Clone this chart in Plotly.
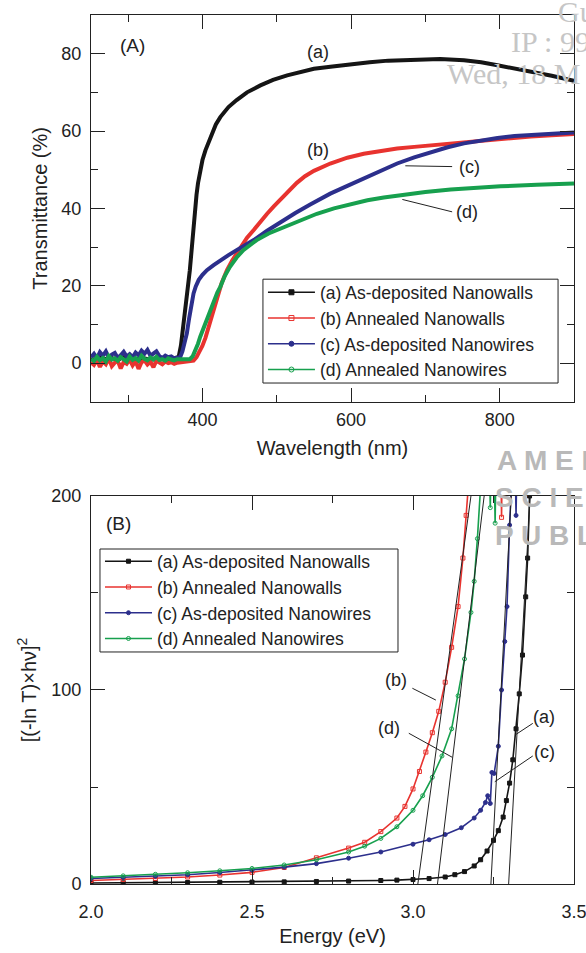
import plotly.graph_objects as go

# ---------------- data: panel (A) transmittance ----------------
wl_pre = [250, 254, 258, 262, 266, 270, 274, 278, 282, 286, 290, 294, 298, 302, 306,
          310, 314, 318, 322, 326, 330, 334, 338, 342, 346, 350, 354, 358, 362, 366]
T_a_pre = [1.2, 0.8, 1.0, 1.4, 0.9, 1.1, 0.7, 1.3, 1.0, 0.8, 1.2, 1.5, 0.9, 1.0, 1.3,
           0.8, 1.1, 0.9, 1.2, 1.0, 0.7, 1.1, 1.4, 0.9, 1.0, 1.2, 0.8, 1.0, 1.1, 1.3]
T_b_pre = [0.2, -0.5, 0.8, -1.0, 0.4, -0.3, 1.2, -0.8, 0.1, 0.6, -1.4, 0.3, -0.2, 0.9, -0.6,
           0.5, -1.5, 0.2, 0.7, -0.4, 0.3, -1.1, 0.6, 0.1, -0.3, 0.4, 0.0, 0.2, -0.2, 0.1]
T_c_pre = [1.5, 2.4, 1.2, 2.8, 1.9, 3.0, 1.4, 2.2, 2.6, 1.3, 2.0, 2.9, 1.7, 2.3, 1.5,
           2.7, 2.0, 3.2, 2.4, 3.4, 1.9, 2.6, 3.0, 1.8, 1.3, 1.9, 1.5, 1.7, 1.2, 1.4]
T_d_pre = [1.0, 0.5, 1.6, 0.7, 1.3, 0.4, 1.8, 0.9, 1.2, 0.6, 1.5, 1.0, 0.4, 1.7, 0.8,
           1.3, 0.6, 1.9, 1.1, 0.7, 1.4, 0.9, 1.6, 0.8, 1.0, 0.6, 1.2, 0.9, 0.7, 1.0]

wl_a = [368, 371, 374, 377, 380, 383, 386, 388, 390, 392, 394, 397, 400, 404, 408, 412, 418,
        424, 435, 446, 460, 478, 495, 514, 532, 550, 575, 600, 625, 650, 684, 720, 752, 775,
        797, 820, 842, 870, 900]
T_a = [1.6, 4.5, 9, 13, 18, 24, 30.5, 35.5, 39.5, 43.5, 46.5, 49.5, 52.5, 55, 57, 59.3, 61.7,
       63.6, 66.2, 68, 70, 71.8, 73.2, 74.4, 75.3, 76.1, 76.7, 77.3, 77.8, 78.2, 78.5, 78.6, 78.3,
       77.8, 77.0, 76.2, 75.3, 74.3, 73.0]

wl_b = [370, 380, 388, 392, 396, 400, 404, 408, 412, 416, 420, 426, 433, 440, 450, 460, 469,
        478, 487, 496, 505, 516, 527, 538, 550, 572, 595, 617, 640, 662, 685, 707, 730, 752,
        775, 797, 820, 842, 870, 900]
T_b = [0.2, 0.3, 0.6, 1.5, 2.8, 4.5, 6.5, 9, 12, 14.8, 17.3, 20.8, 24, 26.5, 29.5, 32.4, 34.4,
       36.6, 38.6, 40.5, 42.3, 44.6, 46.6, 48.3, 49.7, 51.6, 53.1, 54.1, 54.9, 55.5, 55.9, 56.3,
       56.7, 57.1, 57.5, 57.9, 58.3, 58.6, 58.9, 59.2]

wl_c = [370, 373, 376, 379, 382, 385, 388, 391, 395, 400, 406, 415, 424, 435, 446, 458, 469,
        487, 505, 525, 545, 572, 595, 617, 640, 662, 685, 707, 730, 752, 775, 797, 820, 842,
        870, 900]
T_c = [1.5, 3, 5.5, 7.7, 11.5, 15.5, 18, 19.8, 21.5, 22.8, 24, 25.3, 26.6, 27.9, 29.2, 30.5,
       31.8, 34.2, 36.5, 38.8, 41, 43.8, 45.8, 47.7, 49.8, 51.6, 53.2, 54.6, 55.8, 56.8, 57.6,
       58.2, 58.7, 59.0, 59.3, 59.6]

wl_d = [368, 376, 383, 387, 390, 394, 397, 400, 404, 407, 410, 414, 417, 420, 424, 430, 437,
        446, 455, 464, 473, 489, 505, 518, 532, 554, 577, 600, 622, 644, 666, 700, 734, 768,
        801, 850, 900]
T_d = [1.0, 0.9, 1.0, 1.8, 3.0, 5.0, 6.8, 8.3, 10.0, 11.8, 13.7, 15.5, 16.8, 18.2, 19.7, 22.5,
       24.9, 27.3, 29.2, 30.6, 31.8, 33.5, 34.8, 35.9, 37.0, 38.6, 40.0, 41.1, 42.1, 42.8, 43.4,
       44.2, 44.9, 45.4, 45.7, 46.1, 46.4]

# ---------------- data: panel (B) [(-ln T) x hv]^2 ----------------
E_a = [2.0, 2.1, 2.2, 2.3, 2.4, 2.5, 2.6, 2.7, 2.8, 2.9, 2.95, 3.0, 3.05, 3.1, 3.13, 3.16,
       3.19, 3.21, 3.23, 3.25, 3.265, 3.28, 3.29, 3.30, 3.31, 3.32, 3.33, 3.34, 3.35, 3.356,
       3.362, 3.37]
V_a = [0.5, 0.6, 0.7, 0.8, 0.9, 1.0, 1.1, 1.3, 1.5, 1.8, 2.0, 2.3, 2.8, 3.6, 4.8, 6.4,
       9.3, 12.5, 17, 22.5, 27.5, 34.5, 43, 52, 64, 80, 98, 118, 148, 168, 200, 240]

E_b = [2.0, 2.1, 2.2, 2.3, 2.4, 2.5, 2.6, 2.7, 2.8, 2.85, 2.9, 2.95, 2.975, 3.0, 3.02, 3.04,
       3.06, 3.08, 3.1, 3.12, 3.14, 3.155, 3.165, 3.175, 3.27, 3.275, 3.28]
V_b = [1.8, 2.3, 2.9, 3.6, 4.6, 6.0, 8.5, 13.5, 18.5, 21.5, 27, 34, 40, 49, 58, 68,
       78, 89, 104, 122, 143, 168, 190, 212, 260, 189, 260]

E_c = [2.0, 2.1, 2.2, 2.3, 2.4, 2.5, 2.6, 2.7, 2.8, 2.9, 3.0, 3.05, 3.1, 3.15, 3.19, 3.21,
       3.225, 3.232, 3.240, 3.245, 3.252, 3.265, 3.275, 3.285, 3.292, 3.30, 3.305, 3.315,
       3.320, 3.325]
V_c = [2.8, 3.4, 4.0, 4.8, 5.9, 7.2, 8.7, 10.5, 13.3, 16.5, 20.5, 22.8, 25.5, 29, 34, 38,
       42, 45.5, 41.5, 57.5, 57, 71, 100, 125, 143, 185, 215, 240, 190, 240]

E_d = [2.0, 2.1, 2.2, 2.3, 2.4, 2.5, 2.6, 2.7, 2.8, 2.85, 2.9, 2.95, 3.0, 3.03, 3.06, 3.09,
       3.12, 3.14, 3.16, 3.18, 3.19, 3.20, 3.21, 3.235, 3.240, 3.245, 3.25, 3.255, 3.26]
V_d = [3.5, 4.2, 5.0, 5.8, 6.8, 8.0, 9.8, 12.5, 16.5, 19.5, 23.5, 29.5, 38, 45.5, 55, 66,
       80, 97, 116, 140, 156, 178, 205, 240, 194, 240, 240, 186, 240]

# linear extrapolation lines: energy at zero and at the top of the axis
fit_E0 = [3.297, 3.015, 3.242, 3.076]
fit_Etop = [3.364, 3.180, 3.305, 3.221]
fit_V = [0, 200]

names = ["(a) As-deposited Nanowalls", "(b) Annealed Nanowalls",
         "(c) As-deposited Nanowires", "(d) Annealed Nanowires"]

# ---------------- styling ----------------
FONT = "Liberation Sans"
INK = "#222222"
colors = ["#151515", "#e8332f", "#2c2f8c", "#17a04e"]
symbols = ["square", "square-open", "circle", "circle-open"]

fig = go.Figure()

top_x = [wl_pre + wl_a, wl_pre + wl_b, wl_pre + wl_c, wl_pre + wl_d]
top_y = [T_a_pre + T_a, T_b_pre + T_b, T_c_pre + T_c, T_d_pre + T_d]

for i in range(4):
    fig.add_trace(go.Scatter(x=top_x[i], y=top_y[i], mode="lines",
                             line=dict(color=colors[i], width=4),
                             showlegend=False, xaxis="x", yaxis="y", hoverinfo="skip"))
for i in range(4):
    fig.add_trace(go.Scatter(x=[None], y=[None], mode="lines+markers", name=names[i],
                             line=dict(color=colors[i], width=1.5),
                             marker=dict(symbol=symbols[i], size=5, color=colors[i],
                                         line=dict(color=colors[i], width=1)),
                             legend="legend", xaxis="x", yaxis="y"))

bottom = [(E_a, V_a), (E_b, V_b), (E_c, V_c), (E_d, V_d)]
for i in range(4):
    E, V = bottom[i]
    fig.add_trace(go.Scatter(x=E, y=V, mode="lines+markers", name=names[i],
                             line=dict(color=colors[i], width=1.6),
                             marker=dict(symbol=symbols[i], size=4, color=colors[i],
                                         line=dict(color=colors[i], width=1)),
                             legend="legend2", xaxis="x2", yaxis="y2"))
for i in range(4):
    fig.add_trace(go.Scatter(x=[fit_E0[i], fit_Etop[i]], y=fit_V, mode="lines",
                             line=dict(color=INK, width=1), showlegend=False,
                             xaxis="x2", yaxis="y2", hoverinfo="skip"))

axis_common = dict(showline=True, linecolor=INK, linewidth=1, mirror="allticks",
                   ticks="inside", ticklen=14, tickwidth=1, tickcolor=INK,
                   showgrid=False, zeroline=False, automargin=False,
                   ticklabeloverflow="allow",
                   tickfont=dict(family=FONT, size=18, color=INK))

# legend entries are drawn without a frame; the frame is a box drawn behind them
leg_common = dict(xanchor="left", yanchor="top", bgcolor="rgba(0,0,0,0)",
                  borderwidth=0, itemwidth=47,
                  font=dict(family=FONT, size=17.5, color=INK), tracegroupgap=0)

fig.update_layout(
    width=586, height=953,
    margin=dict(l=91, r=12, t=15, b=69, autoexpand=False),
    paper_bgcolor="white", plot_bgcolor="rgba(0,0,0,0)",
    font=dict(family=FONT, color=INK),
    xaxis=dict(axis_common, domain=[0, 1], anchor="y", range=[250, 900],
               tick0=0, dtick=200, ticklabelstandoff=2,
               minor=dict(ticks="inside", ticklen=7, tickcolor=INK, dtick=100, showgrid=False),
               title=dict(text="Wavelength (nm)", font=dict(family=FONT, size=20, color=INK),
                          standoff=11)),
    yaxis=dict(axis_common, domain=[0.555, 1.0], anchor="x", range=[-10, 90],
               tick0=0, dtick=20, ticklabelstandoff=5,
               minor=dict(ticks="inside", ticklen=7, tickcolor=INK, dtick=10, showgrid=False),
               title=dict(text="Transmittance (%)", font=dict(family=FONT, size=20, color=INK),
                          standoff=8)),
    xaxis2=dict(axis_common, domain=[0, 1], anchor="y2", range=[2.0, 3.5],
                tick0=2.0, dtick=0.5, tickformat=".1f", ticklabelstandoff=11,
                minor=dict(ticks="inside", ticklen=7, tickcolor=INK, dtick=0.25, showgrid=False),
                title=dict(text="Energy (eV)", font=dict(family=FONT, size=20, color=INK),
                           standoff=8)),
    yaxis2=dict(axis_common, domain=[0, 0.4465], anchor="x2", range=[0, 200],
                tick0=0, dtick=100, ticklabelstandoff=5,
                minor=dict(ticks="inside", ticklen=7, tickcolor=INK, dtick=50, showgrid=False),
                title=dict(text="[(-ln T)×hν]<sup>2</sup>",
                           font=dict(family=FONT, size=20, color=INK), standoff=9)),
    legend=dict(leg_common, x=0.356, y=0.7015),
    legend2=dict(leg_common, x=0.0186, y=0.392),
)

# legend frames
for x0, x1, y0, y1 in [(0.356, 0.967, 0.5765, 0.696), (0.0186, 0.6356, 0.267, 0.3855)]:
    fig.add_shape(type="rect", xref="paper", yref="paper", x0=x0, x1=x1, y0=y0, y1=y1,
                  fillcolor="white", line=dict(color=INK, width=1), layer="above")

# watermark of the source page
wm = [("Gu", 0.962, 1.004), ("IP : 99", 0.866, 0.969), ("Wed, 18 M", 0.733, 0.933)]
for txt, xx, yy in wm:
    fig.add_annotation(text=txt, xref="paper", yref="paper", x=xx, y=yy, xanchor="left",
                       yanchor="middle", showarrow=False,
                       font=dict(family="Liberation Serif", size=30, color="#c6c6c6"))
wm2 = [("A M E R", 0.836, 0.487), ("S C I E", 0.832, 0.445), ("P U B L", 0.832, 0.401)]
for txt, xx, yy in wm2:
    fig.add_annotation(text="<b>" + txt + "</b>", xref="paper", yref="paper", x=xx, y=yy,
                       xanchor="left", yanchor="middle", showarrow=False,
                       font=dict(family=FONT, size=28, color="#b9b9b9"))

# panel labels and curve labels
lab = dict(showarrow=False, font=dict(family=FONT, size=18, color=INK))
big = dict(showarrow=False, font=dict(family=FONT, size=19, color=INK))
fig.add_annotation(text="(A)", x=306, y=82, xref="x", yref="y", **big)
fig.add_annotation(text="(a)", x=555, y=80.4, xref="x", yref="y", **lab)
fig.add_annotation(text="(b)", x=555, y=55, xref="x", yref="y", **lab)
fig.add_annotation(text="(c)", x=759, y=50.7, xref="x", yref="y", **lab)
fig.add_annotation(text="(d)", x=756, y=39.1, xref="x", yref="y", **lab)
fig.add_annotation(text="(B)", x=2.085, y=186, xref="x2", yref="y2", **big)
fig.add_annotation(text="(b)", x=2.947, y=105, xref="x2", yref="y2", **lab)
fig.add_annotation(text="(d)", x=2.925, y=80.3, xref="x2", yref="y2", **lab)
fig.add_annotation(text="(a)", x=3.408, y=86.2, xref="x2", yref="y2", **lab)
fig.add_annotation(text="(c)", x=3.408, y=68.2, xref="x2", yref="y2", **lab)

leaders = [("x", "y", 673, 51.0, 736, 50.8), ("x", "y", 669, 42.3, 736, 39.1),
           ("x2", "y2", 2.998, 100.9, 3.071, 94.8), ("x2", "y2", 2.987, 77.7, 3.122, 65.3),
           ("x2", "y2", 3.372, 82.8, 3.317, 76.8), ("x2", "y2", 3.372, 66.0, 3.254, 52.7)]
for xr, yr, x0, y0, x1, y1 in leaders:
    fig.add_shape(type="line", xref=xr, yref=yr, x0=x0, y0=y0, x1=x1, y1=y1,
                  line=dict(color=INK, width=1))

fig.write_html("out.html", config={"displayModeBar": False},
               post_script="document.body.style.margin='0px';"
                           "document.documentElement.style.overflow='hidden';")
